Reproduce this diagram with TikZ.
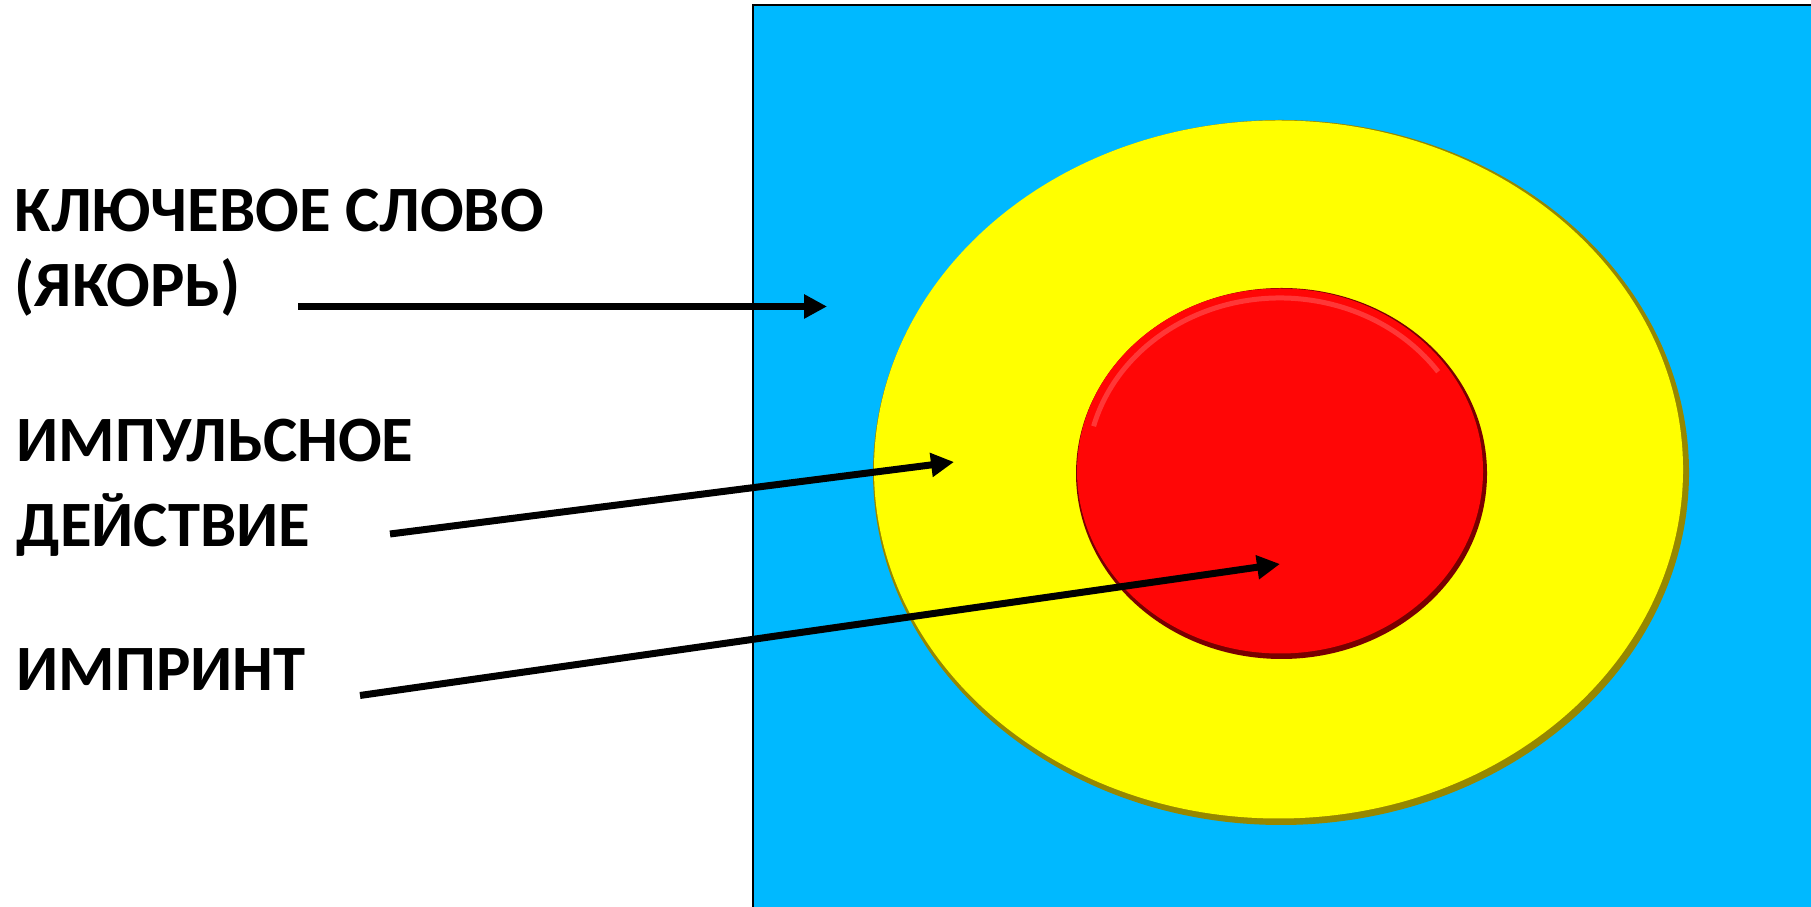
\documentclass[tikz,border=0pt]{standalone}
\usepackage{fontspec}
\setmainfont{Carlito}
\usetikzlibrary{arrows.meta}
\definecolor{skyfill}{RGB}{0,185,255}
\definecolor{ringfill}{RGB}{255,255,0}
\definecolor{ringshade}{RGB}{150,135,0}
\definecolor{corefill}{RGB}{255,6,6}
\definecolor{coreshade}{RGB}{120,0,0}
\definecolor{corelight}{RGB}{255,55,55}
\begin{document}
\begin{tikzpicture}[x=1cm,y=1cm,
  every node/.style={font=\bfseries\fontsize{18.4}{21.5}\selectfont, inner sep=0pt, align=left},
  pointer/.style={line width=0.07cm, -{Triangle[length=0.23cm,width=0.23cm]}}]
  \useasboundingbox (0,0) rectangle (18.11,9.07);
  % background panel
  \fill[skyfill] (7.53,0) rectangle (18.11,9.02);
  \draw[line width=0.02cm] (7.53,-0.1) -- (7.53,9.02) -- (18.3,9.02);
  % target rings
  \coordinate (centre) at (12.81,4.345);
  \fill[ringshade] (centre) ellipse (4.08 and 3.525);
  \fill[ringfill] ([shift={(-0.025,0.03)}]centre) ellipse (4.045 and 3.49);
  \fill[coreshade] ([shift={(0.005,-0.01)}]centre) ellipse (2.055 and 1.855);
  \fill[corefill] ([shift={(-0.01,0.015)}]centre) ellipse (2.03 and 1.825);
  \draw[corelight, line width=0.05cm] ([shift={(-0.01,0.015)}]centre) ++(165:1.93 and 1.73) arc (165:35:1.93 and 1.73);
  % labels (base = last line)
  \node[anchor=base west] (keyword) at (0.14,6.003) {КЛЮЧЕВОЕ СЛОВО\\(ЯКОРЬ)};
  \node[anchor=base west] (impulse) at (0.16,3.603) {ИМПУЛЬСНОЕ\\[2.8pt]ДЕЙСТВИЕ};
  \node[anchor=base west] (imprint) at (0.16,2.16) {ИМПРИНТ};
  % arrow ends
  \coordinate (kwfrom) at (2.98,6.005);
  \coordinate (kwto) at (8.27,6.005);
  \coordinate (impfrom) at (3.90,3.73);
  \coordinate (impto) at (9.54,4.45);
  \coordinate (prfrom) at (3.60,2.115);
  \coordinate (prto) at (12.80,3.43);
  \draw[pointer] (kwfrom) -- (kwto);
  \draw[pointer] (impfrom) -- (impto);
  \draw[pointer] (prfrom) -- (prto);
\end{tikzpicture}
\end{document}
